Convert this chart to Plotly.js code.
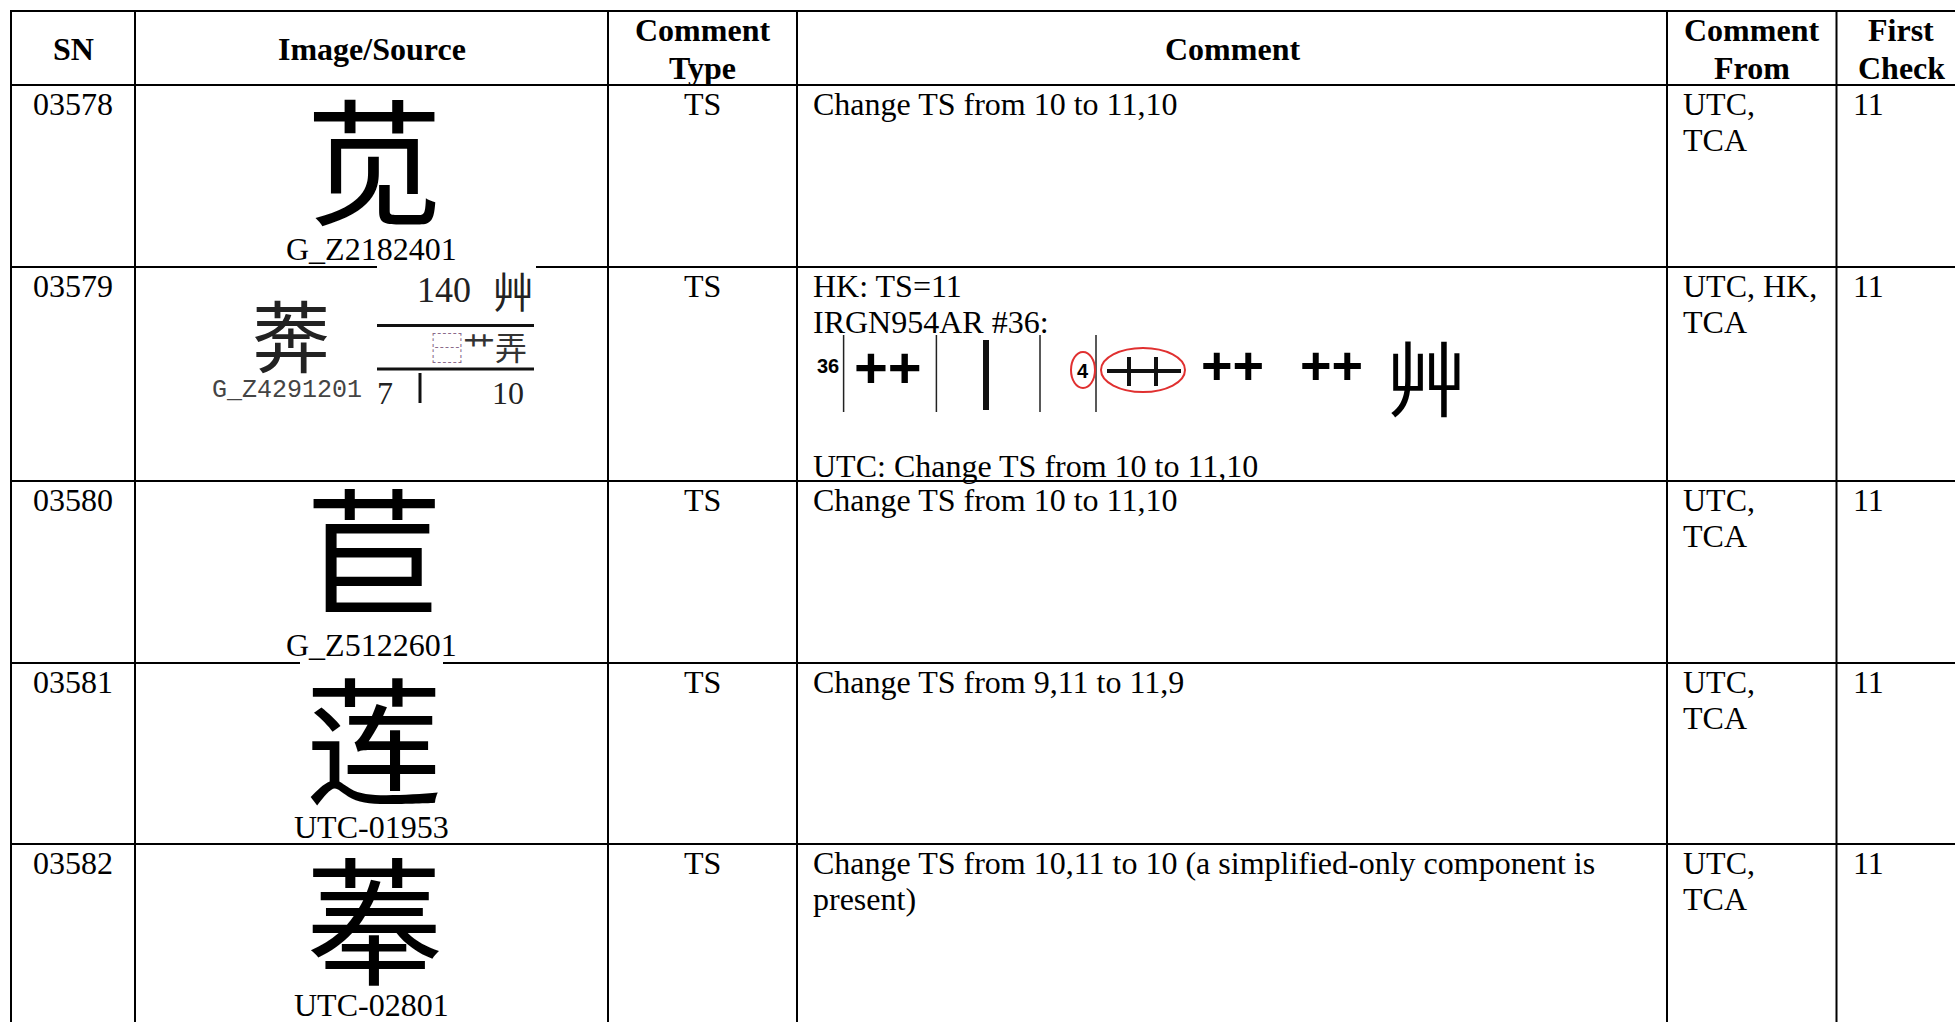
<!DOCTYPE html>
<html><head><meta charset="utf-8">
<script src="https://cdn.plot.ly/plotly-3.0.1.min.js"></script>
<style>html,body{margin:0;padding:0;background:#fff;overflow:hidden}</style>
</head><body><div id="chart" style="width:1955px;height:1022px"></div>
<script>
// ---- table content ----
const headers = ["SN", "Image/Source", "Comment\nType", "Comment", "Comment\nFrom", "First\nCheck"];
const sn = ["03578", "03579", "03580", "03581", "03582"];
const glyphs = ["苋", "莾", "苣", "莲", "菶"];
const sources = ["G_Z2182401", "G_Z4291201", "G_Z5122601", "UTC-01953", "UTC-02801"];
const commentType = ["TS", "TS", "TS", "TS", "TS"];
const comments = [
  "Change TS from 10 to 11,10",
  "HK: TS=11\nIRGN954AR #36:\n\n\n\nUTC: Change TS from 10 to 11,10",
  "Change TS from 10 to 11,10",
  "Change TS from 9,11 to 11,9",
  "Change TS from 10,11 to 10 (a simplified-only component is\npresent)"
];
const commentFrom = ["UTC,\nTCA", "UTC, HK,\nTCA", "UTC,\nTCA", "UTC,\nTCA", "UTC,\nTCA"];
const firstCheck = ["11", "11", "11", "11", "11"];
// radical / stroke info shown in row 03579
const radicalNum = "140";
const radicalChar = "艸";
const idsParts = ["⿱", "艹弄"];
const strokeInfo = ["7", "10"];
const evidenceLabels = ["36", "++", "4", "++", "++", "艸"];

// ---- layout geometry ----
const W = 1955, H = 1022;
const colEdges = [11, 135, 608, 797, 1667, 1836.5, 1966];
const rowEdges = [11, 85, 267, 481, 663, 844, 1040];
const LINE = 36, FIRST = 19, PAD = 15;
const SERIF = "Liberation Serif, Times New Roman, serif";
const CJK = "Noto Sans CJK SC, Noto Sans CJK JP, sans-serif";
const SANS = "Liberation Sans, Arial, sans-serif";

const ann = [];
function txt(x, y, text, opt) {
  opt = opt || {};
  ann.push({
    x: x, y: y, xref: 'x', yref: 'y', text: text, showarrow: false,
    xanchor: opt.xa || 'center', yanchor: 'middle',
    font: {family: opt.family || SERIF, size: opt.size || 32, color: opt.color || '#000',
           weight: opt.weight || 'normal'},
    borderpad: 0
  });
}
const cc = i => (colEdges[i] + colEdges[i + 1]) / 2;

// headers
headers.forEach((h, i) => {
  const lines = h.split("\n");
  const mid = (rowEdges[0] + rowEdges[1]) / 2 + 1;
  lines.forEach((ln, k) => {
    const y = mid + (k - (lines.length - 1) / 2) * 38;
    txt(cc(i), y, ln, {weight: 'bold'});
  });
});

// body cells
function cellLines(col, r, text, align) {
  const top = rowEdges[r + 1];
  text.split("\n").forEach((ln, k) => {
    if (!ln) return;
    const y = top + FIRST + k * LINE;
    if (align === 'left') txt(colEdges[col] + PAD, y, ln, {xa: 'left'});
    else txt(cc(col), y, ln);
  });
}
sn.forEach((v, r) => cellLines(0, r, v, 'center'));
commentType.forEach((v, r) => cellLines(2, r, v, 'center'));
comments.forEach((v, r) => cellLines(3, r, v, 'left'));
commentFrom.forEach((v, r) => cellLines(4, r, v, 'left'));
firstCheck.forEach((v, r) => cellLines(5, r, v, 'left'));

// glyph images (rows 1,3,4,5 big; row 2 small with radical box)
const glyphY = [155, 0, 545, 734, 914];
const srcY = [249, 0, 645, 827, 1005];
glyphs.forEach((g, r) => {
  if (r === 1) return;
  txt(cc(1) + 2, glyphY[r], g, {family: CJK, size: 138, color: '#000'});
  txt(cc(1), srcY[r], sources[r]);
});
// row 03579 image
txt(291, 333, glyphs[1], {family: CJK, size: 78, color: '#222'});
txt(287, 390, sources[1], {family: 'Liberation Mono, DejaVu Sans Mono, monospace', size: 25, color: '#444'});
txt(444, 290, radicalNum, {size: 36, color: '#222'});
txt(513, 289, radicalChar, {family: CJK, size: 42, color: '#222'});
ann.push({x: 528, y: 346, xref: 'x', yref: 'y', showarrow: false, xanchor: 'right', yanchor: 'middle',
  text: '<span style="color:#8a6a8a">' + idsParts[0] + '</span>' + idsParts[1],
  font: {family: CJK, size: 32, color: '#333'}, borderpad: 0});
txt(385, 393, strokeInfo[0], {size: 32, color: '#222'});
txt(508, 393, strokeInfo[1], {size: 32, color: '#222'});

// evidence strip in comment of 03579
const evY = 371;
txt(828, 366, evidenceLabels[0], {family: SANS, size: 20, weight: 'bold'});
txt(888, evY - 4, evidenceLabels[1], {family: SANS, size: 58, weight: 'bold'});
txt(1083, evY, evidenceLabels[2], {family: SANS, size: 20, weight: 'bold'});
txt(1232, evY - 6, evidenceLabels[3], {family: SANS, size: 54, weight: 'bold'});
txt(1331, evY - 6, evidenceLabels[4], {family: SANS, size: 54, weight: 'bold'});
txt(1426, 374, evidenceLabels[5], {family: CJK, size: 82});

// ---- shapes: grid ----
const shapes = [];
const blk = {color: '#000', width: 2};
rowEdges.slice(0, 6).forEach(y => shapes.push({type: 'line', xref: 'x', yref: 'y', x0: colEdges[0] - 1, x1: W, y0: y, y1: y, line: blk}));
colEdges.slice(0, 6).forEach(x => shapes.push({type: 'line', xref: 'x', yref: 'y', x0: x, x1: x, y0: rowEdges[0], y1: H, line: blk}));
// white image backgrounds covering grid lines
shapes.push({type: 'rect', xref: 'x', yref: 'y', x0: 377, x1: 536, y0: 261, y1: 273, fillcolor: '#fff', line: {width: 0}});
shapes.push({type: 'rect', xref: 'x', yref: 'y', x0: 300, x1: 443, y0: 657, y1: 669, fillcolor: '#fff', line: {width: 0}});
// radical box lines (row 03579)
shapes.push({type: 'line', xref: 'x', yref: 'y', x0: 377, x1: 534, y0: 325.5, y1: 325.5, line: {color: '#111', width: 3}});
shapes.push({type: 'line', xref: 'x', yref: 'y', x0: 377, x1: 534, y0: 369, y1: 369, line: {color: '#111', width: 3}});
shapes.push({type: 'line', xref: 'x', yref: 'y', x0: 420, x1: 420, y0: 373, y1: 403, line: {color: '#111', width: 3}});
// evidence strip separators
[843.6, 936.4, 1040, 1096].forEach(x => shapes.push({type: 'line', xref: 'x', yref: 'y', x0: x, x1: x, y0: 335, y1: 412, line: {color: '#222', width: 1.5}}));
shapes.push({type: 'line', xref: 'x', yref: 'y', x0: 986, x1: 986, y0: 340, y1: 410, line: {color: '#111', width: 6}});
shapes.push({type: 'circle', xref: 'x', yref: 'y', x0: 1071, x1: 1095, y0: 352, y1: 388, line: {color: '#e03030', width: 2}});
shapes.push({type: 'circle', xref: 'x', yref: 'y', x0: 1101, x1: 1185, y0: 348, y1: 392, line: {color: '#e03030', width: 2}});
shapes.push({type: 'line', xref: 'x', yref: 'y', x0: 1107, x1: 1181, y0: 371, y1: 371, line: {color: '#111', width: 4}});
[1129, 1156].forEach(x => shapes.push({type: 'line', xref: 'x', yref: 'y', x0: x, x1: x, y0: 357, y1: 386, line: {color: '#111', width: 4}}));

const layout = {
  width: W, height: H, margin: {l: 0, r: 0, t: 0, b: 0},
  paper_bgcolor: '#fff', plot_bgcolor: '#fff', showlegend: false,
  xaxis: {range: [0, W], visible: false, fixedrange: true},
  yaxis: {range: [H, 0], visible: false, fixedrange: true},
  annotations: ann, shapes: shapes
};
Plotly.newPlot('chart', [{x: [], y: [], type: 'scatter', hoverinfo: 'skip'}], layout, {displayModeBar: false, staticPlot: true});
</script></body></html>
